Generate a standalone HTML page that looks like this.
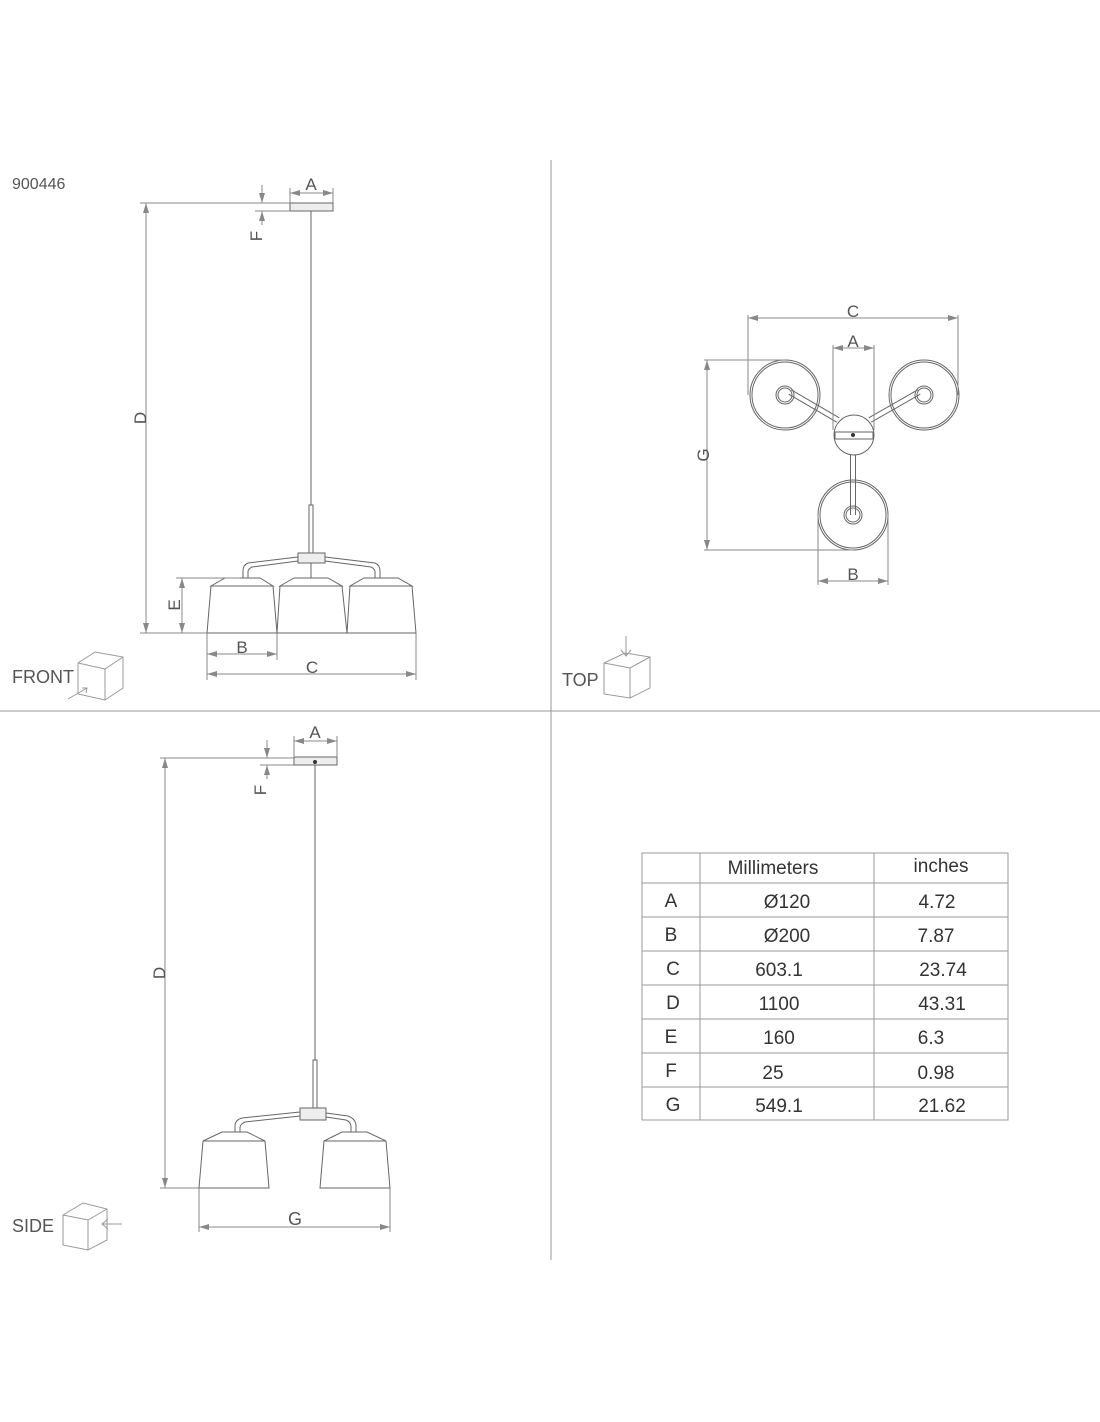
<!DOCTYPE html>
<html><head><meta charset="utf-8"><style>
html,body{margin:0;padding:0;background:#fff}
svg{display:block}
text{font-family:"Liberation Sans",sans-serif;fill:#555}
</style></head><body>
<svg width="1100" height="1422" viewBox="0 0 1100 1422" xmlns="http://www.w3.org/2000/svg">
<defs>
<marker id="ar" viewBox="0 0 10 6" refX="10" refY="3" markerWidth="10" markerHeight="6" orient="auto-start-reverse" markerUnits="userSpaceOnUse"><path d="M0,0 L10,3 L0,6 Z" fill="#888"/></marker>
</defs>
<g stroke="#999" stroke-width="1" fill="none">
<line x1="551" y1="160" x2="551" y2="1260"/>
<line x1="0" y1="711" x2="1100" y2="711"/>
</g>
<text x="12" y="189" font-size="16">900446</text>

<!-- FRONT VIEW -->
<g stroke="#666" stroke-width="1" fill="none">
<rect x="290" y="203" width="43" height="8" fill="#eee"/>
<line x1="311" y1="211" x2="311" y2="505"/>
<rect x="309" y="505" width="4" height="48"/>
<rect x="298" y="553" width="27" height="10" fill="#eee"/>
<path d="M298,557 L248,563 Q243,565 243,571 L243,578"/>
<path d="M298,561 L252,567 Q248,569 248,572 L248,578"/>
<path d="M325,557 L375,563 Q380,565 380,571 L380,578"/>
<path d="M325,561 L371,567 Q375,569 375,572 L375,578"/>
<line x1="311" y1="563" x2="311" y2="578"/>
<path d="M211,586 L225,578 L260,578 L273,586 Z"/>
<path d="M211,586 L207,633 L277,633 L273,586"/>
<path d="M280,586 L294,578 L328,578 L342,586 Z"/>
<path d="M280,586 L277,633 L347,633 L342,586"/>
<path d="M350,586 L364,578 L398,578 L412,586 Z"/>
<path d="M350,586 L347,633 L416,633 L412,586"/>
</g>
<g stroke="#888" stroke-width="1" fill="none">
<line x1="140" y1="203" x2="290" y2="203"/>
<line x1="140" y1="633" x2="207" y2="633"/>
<line x1="146" y1="203" x2="146" y2="633" marker-start="url(#ar)" marker-end="url(#ar)"/>
<line x1="176" y1="578" x2="240" y2="578"/>
<line x1="182" y1="578" x2="182" y2="633" marker-start="url(#ar)" marker-end="url(#ar)"/>
<line x1="255" y1="211" x2="290" y2="211"/>
<line x1="262" y1="185" x2="262" y2="203" marker-end="url(#ar)"/>
<line x1="262" y1="225" x2="262" y2="211" marker-end="url(#ar)"/>
<line x1="290" y1="188" x2="290" y2="203"/>
<line x1="333" y1="188" x2="333" y2="203"/>
<line x1="290" y1="193" x2="333" y2="193" marker-start="url(#ar)" marker-end="url(#ar)"/>
<line x1="207" y1="633" x2="207" y2="680"/>
<line x1="277" y1="633" x2="277" y2="660"/>
<line x1="416" y1="633" x2="416" y2="680"/>
<line x1="207" y1="654" x2="277" y2="654" marker-start="url(#ar)" marker-end="url(#ar)"/>
<line x1="207" y1="674" x2="416" y2="674" marker-start="url(#ar)" marker-end="url(#ar)"/>
</g>
<text x="311" y="190" font-size="17" text-anchor="middle">A</text>
<text transform="translate(146,418) rotate(-90)" font-size="17" text-anchor="middle">D</text>
<text transform="translate(180,605) rotate(-90)" font-size="17" text-anchor="middle">E</text>
<text transform="translate(262,236) rotate(-90)" font-size="17" text-anchor="middle">F</text>
<text x="242" y="653" font-size="17" text-anchor="middle">B</text>
<text x="312" y="673" font-size="17" text-anchor="middle">C</text>
<text x="12" y="683" font-size="18">FRONT</text>
<g stroke="#999" stroke-width="1" fill="none">
<path d="M78,663 L95,652 L123,657 L123,688 L105,700 L78,694 Z"/>
<path d="M78,663 L105,669 L123,657 M105,669 L105,700"/>
<path d="M68,699 L87,688 M82,688 L87,688 L86,693"/>
</g>

<!-- TOP VIEW -->
<g stroke="#666" stroke-width="1" fill="none">
<line x1="790" y1="392" x2="838" y2="420" stroke-width="6" stroke="#666"/>
<line x1="790" y1="392" x2="838" y2="420" stroke-width="4" stroke="#fff"/>
<line x1="919" y1="392" x2="870" y2="420" stroke-width="6" stroke="#666"/>
<line x1="919" y1="392" x2="870" y2="420" stroke-width="4" stroke="#fff"/>
<line x1="853" y1="455" x2="853" y2="515" stroke-width="6" stroke="#666"/>
<line x1="853" y1="455" x2="853" y2="515" stroke-width="4" stroke="#fff"/>
<circle cx="785" cy="395" r="35"/><circle cx="785" cy="395" r="33"/>
<circle cx="785" cy="395" r="9"/><circle cx="785" cy="395" r="7"/>
<circle cx="924" cy="395" r="35"/><circle cx="924" cy="395" r="33"/>
<circle cx="924" cy="395" r="9"/><circle cx="924" cy="395" r="7"/>
<circle cx="853" cy="515" r="35"/><circle cx="853" cy="515" r="33"/>
<circle cx="853" cy="515" r="9"/><circle cx="853" cy="515" r="7"/>
<circle cx="854" cy="435" r="20" fill="#fff"/>
<rect x="835" y="432" width="38" height="7"/>
</g>
<circle cx="853" cy="435" r="2" fill="#333"/>
<g stroke="#888" stroke-width="1" fill="none">
<line x1="748" y1="315" x2="748" y2="395"/>
<line x1="958" y1="315" x2="958" y2="395"/>
<line x1="748" y1="318" x2="958" y2="318" marker-start="url(#ar)" marker-end="url(#ar)"/>
<line x1="833" y1="345" x2="833" y2="430"/>
<line x1="874" y1="345" x2="874" y2="430"/>
<line x1="833" y1="348" x2="874" y2="348" marker-start="url(#ar)" marker-end="url(#ar)"/>
<line x1="704" y1="360" x2="785" y2="360"/>
<line x1="704" y1="550" x2="853" y2="550"/>
<line x1="707" y1="360" x2="707" y2="550" marker-start="url(#ar)" marker-end="url(#ar)"/>
<line x1="818" y1="515" x2="818" y2="585"/>
<line x1="888" y1="515" x2="888" y2="585"/>
<line x1="818" y1="581" x2="888" y2="581" marker-start="url(#ar)" marker-end="url(#ar)"/>
</g>
<text x="853" y="317" font-size="17" text-anchor="middle">C</text>
<text x="853" y="347" font-size="17" text-anchor="middle">A</text>
<text transform="translate(709,455) rotate(-90)" font-size="17" text-anchor="middle">G</text>
<text x="853" y="580" font-size="17" text-anchor="middle">B</text>
<text x="562" y="686" font-size="18">TOP</text>
<g stroke="#999" stroke-width="1" fill="none">
<path d="M604,663 L625,653 L650,657 L650,688 L630,698 L604,694 Z"/>
<path d="M604,663 L630,668 L650,657 M630,668 L630,698"/>
<path d="M626,636 L626,656 M621,650 L626,656 L631,650"/>
</g>

<!-- SIDE VIEW -->
<g stroke="#666" stroke-width="1" fill="none">
<rect x="294" y="757" width="43" height="8" fill="#eee"/>
<line x1="315" y1="765" x2="315" y2="1060"/>
<rect x="313" y="1060" width="4" height="48"/>
<rect x="300" y="1108" width="26" height="12" fill="#eee"/>
<path d="M300,1112 L242,1118 Q235,1120 235,1126 L235,1132"/>
<path d="M300,1116 L245,1122 Q240,1124 240,1128 L240,1132"/>
<path d="M326,1113 L348,1116 Q356,1119 356,1126 L356,1132"/>
<path d="M326,1117 L346,1120 Q351,1122 351,1127 L351,1132"/>
<path d="M203,1141 L222,1132 L247,1132 L265,1141 Z"/>
<path d="M203,1141 L199,1188 L269,1188 L265,1141"/>
<path d="M324,1141 L342,1132 L367,1132 L386,1141 Z"/>
<path d="M324,1141 L320,1188 L390,1188 L386,1141"/>
</g>
<circle cx="315" cy="762" r="2" fill="#333"/>
<g stroke="#888" stroke-width="1" fill="none">
<line x1="160" y1="758" x2="294" y2="758"/>
<line x1="160" y1="1188" x2="199" y2="1188"/>
<line x1="165" y1="758" x2="165" y2="1188" marker-start="url(#ar)" marker-end="url(#ar)"/>
<line x1="260" y1="765" x2="294" y2="765"/>
<line x1="267" y1="740" x2="267" y2="758" marker-end="url(#ar)"/>
<line x1="267" y1="779" x2="267" y2="765" marker-end="url(#ar)"/>
<line x1="294" y1="736" x2="294" y2="757"/>
<line x1="337" y1="736" x2="337" y2="757"/>
<line x1="294" y1="741" x2="337" y2="741" marker-start="url(#ar)" marker-end="url(#ar)"/>
<line x1="199" y1="1188" x2="199" y2="1232"/>
<line x1="390" y1="1188" x2="390" y2="1232"/>
<line x1="199" y1="1227" x2="390" y2="1227" marker-start="url(#ar)" marker-end="url(#ar)"/>
</g>
<text x="315" y="738" font-size="17" text-anchor="middle">A</text>
<text transform="translate(165,973) rotate(-90)" font-size="17" text-anchor="middle">D</text>
<text transform="translate(266,790) rotate(-90)" font-size="17" text-anchor="middle">F</text>
<text x="295" y="1225" font-size="18" text-anchor="middle">G</text>
<text x="12" y="1232" font-size="18">SIDE</text>
<g stroke="#999" stroke-width="1" fill="none">
<path d="M63,1215 L83,1203 L107,1209 L107,1240 L88,1250 L63,1245 Z"/>
<path d="M63,1215 L88,1220 L107,1209 M88,1220 L88,1250"/>
<path d="M122,1224 L102,1224 M108,1219 L102,1224 L108,1229"/>
</g>

<!-- TABLE -->
<g stroke="#999" stroke-width="1" fill="none">
<rect x="642" y="853" width="366" height="267"/>
<line x1="700" y1="853" x2="700" y2="1120"/>
<line x1="874" y1="853" x2="874" y2="1120"/>
<line x1="642" y1="883" x2="1008" y2="883"/>
<line x1="642" y1="917" x2="1008" y2="917"/>
<line x1="642" y1="951" x2="1008" y2="951"/>
<line x1="642" y1="985" x2="1008" y2="985"/>
<line x1="642" y1="1019" x2="1008" y2="1019"/>
<line x1="642" y1="1053" x2="1008" y2="1053"/>
<line x1="642" y1="1087" x2="1008" y2="1087"/>
</g>
<g font-size="19">
<text x="773" y="874" text-anchor="middle" style="fill:#333">Millimeters</text>
<text x="941" y="872" text-anchor="middle" style="fill:#333">inches</text>
<text x="671" y="907" text-anchor="middle" style="fill:#333">A</text>
<text x="787" y="908" text-anchor="middle" style="fill:#333">Ø120</text>
<text x="937" y="908" text-anchor="middle" style="fill:#333">4.72</text>
<text x="671" y="941" text-anchor="middle" style="fill:#333">B</text>
<text x="787" y="942" text-anchor="middle" style="fill:#333">Ø200</text>
<text x="936" y="942" text-anchor="middle" style="fill:#333">7.87</text>
<text x="673" y="975" text-anchor="middle" style="fill:#333">C</text>
<text x="779" y="976" text-anchor="middle" style="fill:#333">603.1</text>
<text x="943" y="976" text-anchor="middle" style="fill:#333">23.74</text>
<text x="673" y="1009" text-anchor="middle" style="fill:#333">D</text>
<text x="779" y="1010" text-anchor="middle" style="fill:#333">1100</text>
<text x="942" y="1010" text-anchor="middle" style="fill:#333">43.31</text>
<text x="671" y="1043" text-anchor="middle" style="fill:#333">E</text>
<text x="779" y="1044" text-anchor="middle" style="fill:#333">160</text>
<text x="931" y="1044" text-anchor="middle" style="fill:#333">6.3</text>
<text x="671" y="1077" text-anchor="middle" style="fill:#333">F</text>
<text x="773" y="1079" text-anchor="middle" style="fill:#333">25</text>
<text x="936" y="1079" text-anchor="middle" style="fill:#333">0.98</text>
<text x="673" y="1111" text-anchor="middle" style="fill:#333">G</text>
<text x="779" y="1112" text-anchor="middle" style="fill:#333">549.1</text>
<text x="942" y="1112" text-anchor="middle" style="fill:#333">21.62</text>
</g>
</svg>
</body></html>
